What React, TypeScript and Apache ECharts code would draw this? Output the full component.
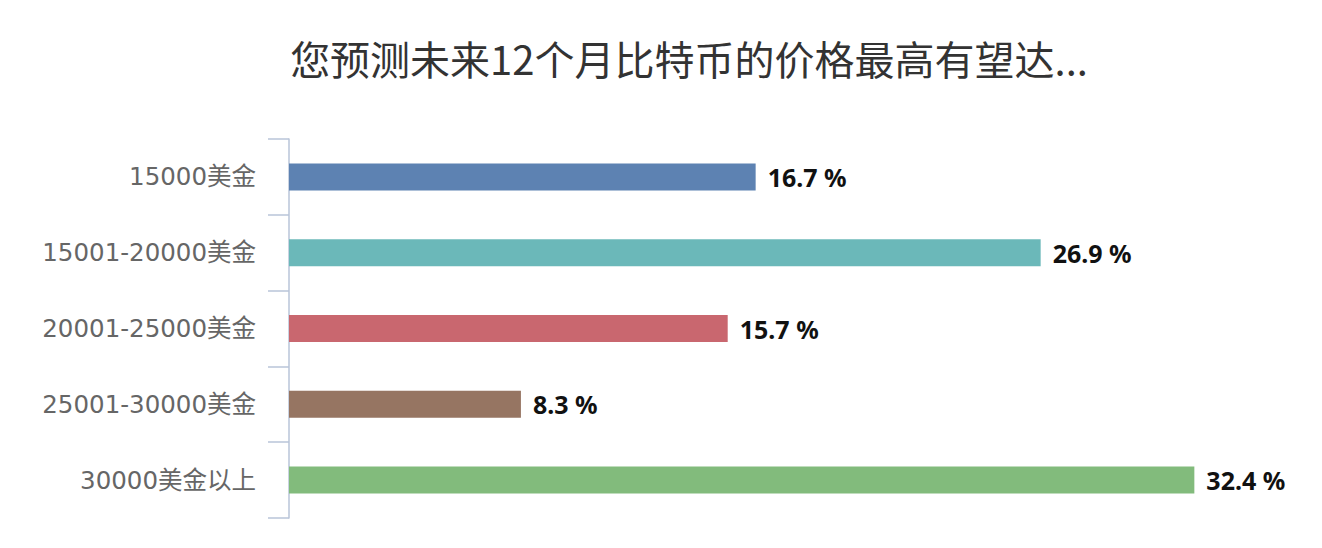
import React, { useEffect, useRef } from "react";
import * as echarts from "echarts";

const titleText = "您预测未来12个月比特币的价格最高有望达...";
const categories = ["15000美金", "15001-20000美金", "20001-25000美金", "25001-30000美金", "30000美金以上"];
const values = [16.7, 26.9, 15.7, 8.3, 32.4];
const barColors = ["#5d82b2", "#6bb8b9", "#c9676f", "#967562", "#82bb7c"];

export default function App() {
  const ref = useRef<HTMLDivElement>(null);
  useEffect(() => {
    if (!ref.current) return;
    const chart = echarts.init(ref.current, undefined, { renderer: "svg" });
    chart.setOption({
      animation: false,
      backgroundColor: "#ffffff",
      title: {
        text: titleText,
        left: 684,
        top: 33,
        textAlign: "center",
        textStyle: {
          fontFamily: "Noto Sans CJK SC, Noto Sans, sans-serif",
          fontSize: 40,
          fontWeight: "normal",
          color: "#333333",
        },
      },
      grid: { left: 289, top: 139, bottom: 30, width: 978 },
      xAxis: {
        type: "value",
        min: 0,
        max: 35,
        show: false,
      },
      yAxis: {
        type: "category",
        data: categories,
        inverse: true,
        axisLine: { show: true, lineStyle: { color: "#b9c4d9", width: 1.5 } },
        axisTick: { show: true, length: 21, lineStyle: { color: "#b9c4d9", width: 1.5 } },
        axisLabel: {
          margin: 33,
          fontSize: 24.5,
          color: "#666666",
          fontFamily: "DejaVu Sans, Noto Sans CJK SC, sans-serif",
          padding: [4, 0, 0, 0],
        },
        splitLine: { show: false },
      },
      series: [
        {
          type: "bar",
          data: values.map((v, i) => ({ value: v, itemStyle: { color: barColors[i] } })),
          barWidth: 27,
          label: {
            show: true,
            position: "right",
            distance: 12,
            formatter: "{c} %",
            fontSize: 25,
            fontWeight: "bold",
            color: "#111111",
            fontFamily: "Noto Sans, sans-serif",
            padding: [4, 0, 0, 0],
          },
        },
      ],
    });
    return () => chart.dispose();
  }, []);
  return (
    <div
      ref={ref}
      style={{ position: "fixed", left: 0, top: 0, width: 1322, height: 548 }}
    />
  );
}
